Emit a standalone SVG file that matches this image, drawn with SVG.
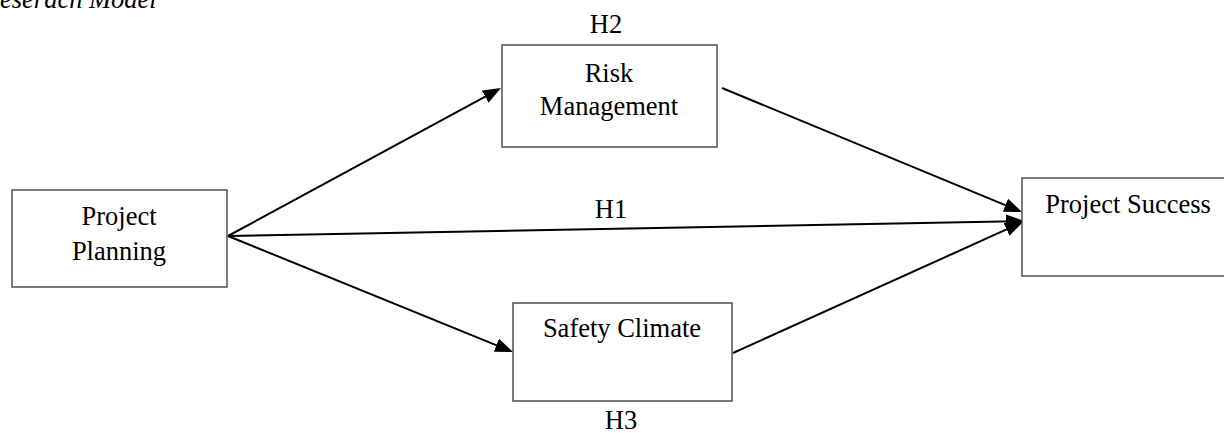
<svg xmlns="http://www.w3.org/2000/svg" width="1224" height="434" viewBox="0 0 1224 434">
<style>
.box{fill:#fff;stroke:#444;stroke-width:1.4}
.t{font-family:"Liberation Serif","Times New Roman",serif;font-size:26.5px;fill:#000;text-anchor:middle}
.ti{font-family:"Liberation Serif","Times New Roman",serif;font-size:26.5px;font-style:italic;fill:#000}
.c{stroke:#000;stroke-width:2;fill:none;marker-end:url(#ah)}
</style>
<defs>
<marker id="ah" markerUnits="userSpaceOnUse" markerWidth="18" markerHeight="14" refX="9" refY="7" orient="auto">
<path d="M0,0 L18,7 L0,14 z" fill="#000"/>
</marker>
</defs>
<rect width="1224" height="434" fill="#fff"/>
<text class="ti" x="0" y="8">eserach Model</text>
<g id="connectors">
<line class="c" x1="228" y1="236" x2="493.1" y2="92.3"/>
<line class="c" x1="228" y1="236" x2="504.7" y2="348.6"/>
<line class="c" x1="228" y1="236" x2="1015" y2="221.2"/>
<line class="c" x1="722" y1="88" x2="1013.7" y2="208.6"/>
<line class="c" x1="733" y1="353" x2="1014.8" y2="225.7"/>
<text class="t" x="611" y="218">H1</text>
<text class="t" x="606" y="33">H2</text>
<text class="t" x="621" y="429">H3</text>
</g>
<g id="project-planning">
<rect class="box" x="12" y="190" width="215" height="97"/>
<text class="t" x="119" y="225">Project</text>
<text class="t" x="119" y="260">Planning</text>
</g>
<g id="risk-management">
<rect class="box" x="502" y="45" width="215" height="102"/>
<text class="t" x="609" y="82">Risk</text>
<text class="t" x="609" y="115">Management</text>
</g>
<g id="safety-climate">
<rect class="box" x="513" y="303" width="219" height="98"/>
<text class="t" x="622" y="337">Safety Climate</text>
</g>
<g id="project-success">
<rect class="box" x="1022" y="178" width="212" height="98"/>
<text class="t" x="1128" y="213">Project Success</text>
</g>
</svg>
